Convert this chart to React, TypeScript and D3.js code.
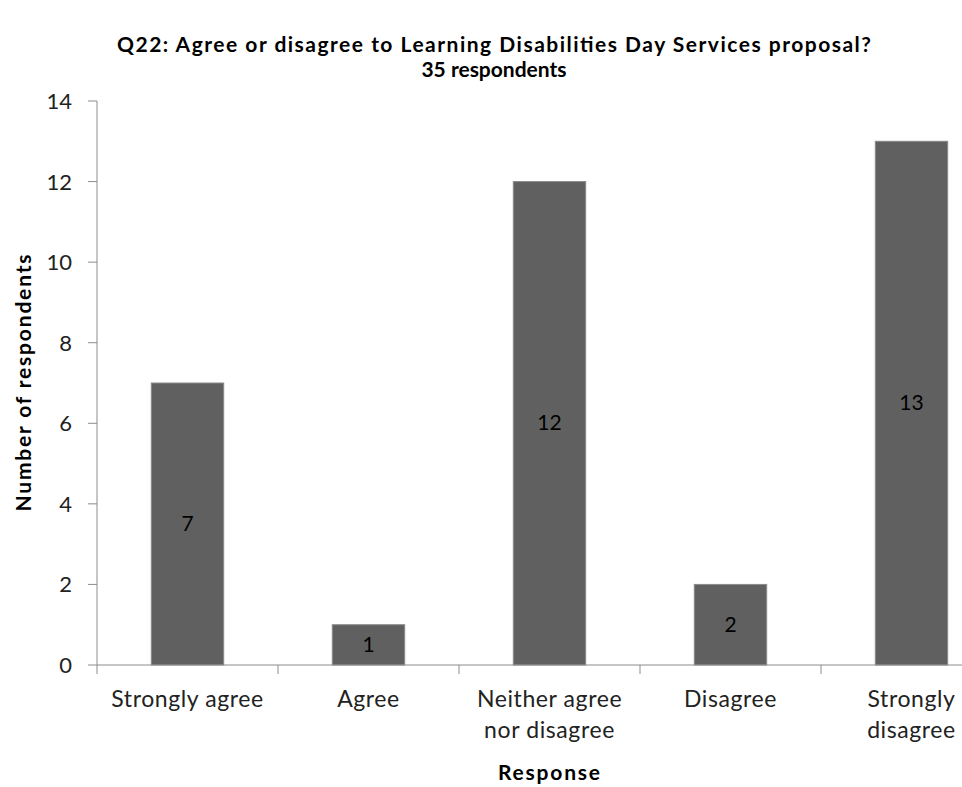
import { scaleBand, scaleLinear } from "d3";

const categories = ["Strongly agree", "Agree", "Neither agree nor disagree", "Disagree", "Strongly disagree"];
const categoryLines = [["Strongly agree"], ["Agree"], ["Neither agree", "nor disagree"], ["Disagree"], ["Strongly", "disagree"]];
const counts = [7, 1, 12, 2, 13];
const yTicks = [0, 2, 4, 6, 8, 10, 12, 14];

const titleLines = ["Q22: Agree or disagree to Learning Disabilities  Day Services proposal?", "35 respondents"];

const W = 962;
const H = 787;
const left = 97;
const right = 1002;
const top = 101;
const bottom = 665;
const font = "Lato, 'Open Sans', sans-serif";
const axisColor = "#8c8c8c";

export default function App() {
  const x = scaleBand<string>().domain(categories).range([left, right]).paddingInner(0.6).paddingOuter(0.3);
  const y = scaleLinear().domain([0, 14]).range([bottom, top]);
  const step = x.step();

  return (
    <div style={{ position: "absolute", left: 0, top: 0 }}>
      <svg width={W} height={H} style={{ display: "block", background: "#fff" }} fontFamily={font}>
        {/* title */}
        <text x={494} y={52} textAnchor="middle" fontSize={21} fontWeight="bold" fill="#000" textLength={754} lengthAdjust="spacing">
          {titleLines[0]}
        </text>
        <text x={494} y={77} textAnchor="middle" fontSize={21} fontWeight="bold" fill="#000">
          {titleLines[1]}
        </text>

        {/* bars */}
        {categories.map((c, i) => (
          <g key={c}>
            <rect
              x={x(c)}
              y={y(counts[i])}
              width={x.bandwidth()}
              height={bottom - y(counts[i])}
              fill="#606060"
              stroke="#8a8a8a"
              strokeWidth={1}
            />
            <text
              x={x(c)! + x.bandwidth() / 2}
              y={(y(counts[i]) + bottom) / 2 + 7}
              textAnchor="middle"
              fontSize={21}
              fill="#000"
            >
              {counts[i]}
            </text>
          </g>
        ))}

        {/* y axis */}
        <line x1={left} x2={left} y1={top} y2={bottom} stroke={axisColor} />
        {yTicks.map((t) => (
          <g key={t}>
            <line x1={left - 9} x2={left} y1={y(t)} y2={y(t)} stroke={axisColor} />
            <text x={72} y={y(t) + 8} textAnchor="end" fontSize={22} fill="#222">
              {t}
            </text>
          </g>
        ))}

        {/* x axis */}
        <line x1={left} x2={right} y1={bottom} y2={bottom} stroke={axisColor} />
        {categories.map((c, i) => (
          <line key={c} x1={left + i * step} x2={left + i * step} y1={bottom} y2={bottom + 9} stroke={axisColor} />
        ))}
        {categories.map((c, i) =>
          categoryLines[i].map((ln, j) => (
            <text
              key={c + j}
              x={x(c)! + x.bandwidth() / 2}
              y={707 + j * 31}
              textAnchor="middle"
              fontSize={23}
              letterSpacing={0.6}
              fill="#222"
            >
              {ln}
            </text>
          ))
        )}

        {/* axis titles */}
        <text x={549} y={780} textAnchor="middle" fontSize={21} fontWeight="bold" fill="#000" textLength={102} lengthAdjust="spacing">
          Response
        </text>
        <text
          transform={`translate(31, ${(top + bottom) / 2}) rotate(-90)`}
          textAnchor="middle"
          fontSize={21}
          fontWeight="bold"
          fill="#000"
          textLength={257}
          lengthAdjust="spacing"
        >
          Number of respondents
        </text>
      </svg>
    </div>
  );
}
